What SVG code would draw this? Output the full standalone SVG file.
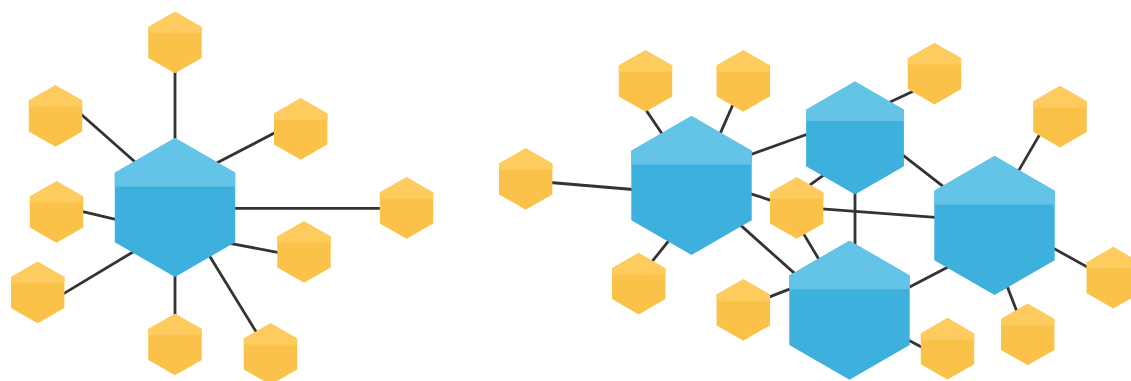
<svg xmlns="http://www.w3.org/2000/svg" xmlns:xlink="http://www.w3.org/1999/xlink" width="1131" height="381" viewBox="0 0 1131 381">
<style>
.edge{stroke:#333333;stroke-width:2.8;stroke-linecap:butt;fill:none}
.bd{fill:#3DB0DD}.bl{fill:#63C4E8}
.yd{fill:#FBC24A}.yl{fill:#FDCB5E}
</style>
<defs>
<g id="sh">
<polygon class="yd" points="0,-30.8 26.7,-15.4 26.7,15.4 0,30.8 -26.7,15.4 -26.7,-15.4"/>
<polygon class="yl" points="0,-30.8 26.7,-15.4 26.7,-9.2 -26.7,-9.2 -26.7,-15.4"/>
</g>
<g id="bh">
<polygon class="bd" points="0,-69.5 60.2,-34.75 60.2,34.75 0,69.5 -60.2,34.75 -60.2,-34.75"/>
<polygon class="bl" points="0,-69.5 60.2,-34.75 60.2,-21 -60.2,-21 -60.2,-34.75"/>
</g>
<g id="mh">
<polygon class="bd" points="0,-56.5 48.9,-28.25 48.9,28.25 0,56.5 -48.9,28.25 -48.9,-28.25"/>
<polygon class="bl" points="0,-56.5 48.9,-28.25 48.9,-17 -48.9,-17 -48.9,-28.25"/>
</g>
</defs>
<rect width="1131" height="381" fill="#FFFFFF"/>
<g id="connectors">
<line class="edge" x1="175" y1="66" x2="175" y2="145"/>
<line class="edge" x1="76" y1="109.7" x2="141" y2="167.3"/>
<line class="edge" x1="209.9" y1="166.4" x2="281.1" y2="129.6"/>
<line class="edge" x1="228" y1="208.3" x2="388" y2="208.3"/>
<line class="edge" x1="75.5" y1="209.9" x2="121.8" y2="220.8"/>
<line class="edge" x1="227.4" y1="242.8" x2="285.2" y2="253.8"/>
<line class="edge" x1="57.4" y1="297.4" x2="137.6" y2="249.2"/>
<line class="edge" x1="175" y1="270" x2="175" y2="321"/>
<line class="edge" x1="206.8" y1="251.5" x2="260.2" y2="338.5"/>
<line class="edge" x1="544.3" y1="182" x2="639" y2="190"/>
<line class="edge" x1="642.2" y1="104.4" x2="666.2" y2="140"/>
<line class="edge" x1="735.5" y1="98.7" x2="717.5" y2="139.6"/>
<line class="edge" x1="648.3" y1="266.2" x2="672.7" y2="235.8"/>
<line class="edge" x1="744.8" y1="156.7" x2="813.5" y2="132"/>
<line class="edge" x1="744.7" y1="191.9" x2="777.6" y2="202.4"/>
<line class="edge" x1="736.3" y1="221.4" x2="799.3" y2="277.6"/>
<line class="edge" x1="762.5" y1="299.6" x2="796.5" y2="286.4"/>
<line class="edge" x1="803.5" y1="189.7" x2="828.8" y2="171.3"/>
<line class="edge" x1="800.2" y1="228.1" x2="822.4" y2="265.2"/>
<line class="edge" x1="855" y1="190" x2="855" y2="250"/>
<line class="edge" x1="883.8" y1="105.1" x2="919.5" y2="88.3"/>
<line class="edge" x1="897.7" y1="151.1" x2="948.6" y2="190.6"/>
<line class="edge" x1="815.3" y1="208.4" x2="942" y2="217.9"/>
<line class="edge" x1="1015" y1="176.9" x2="1043.3" y2="128.4"/>
<line class="edge" x1="1048.3" y1="245.4" x2="1093.7" y2="270.6"/>
<line class="edge" x1="1004.8" y1="280.2" x2="1018.9" y2="316.8"/>
<line class="edge" x1="953.8" y1="264" x2="902.9" y2="290.4"/>
<line class="edge" x1="902.9" y1="337.3" x2="928.1" y2="350.4"/>
</g>
<g id="hub-left" transform="translate(175,207.5)"><use href="#bh"/></g>
<g id="l-top" transform="translate(175,42.5)"><use href="#sh"/></g>
<g id="l-upleft" transform="translate(55.5,116)"><use href="#sh"/></g>
<g id="l-upright" transform="translate(300.7,129)"><use href="#sh"/></g>
<g id="l-right" transform="translate(406.5,208)"><use href="#sh"/></g>
<g id="l-midleft" transform="translate(56.5,212)"><use href="#sh"/></g>
<g id="l-lowright" transform="translate(304,252)"><use href="#sh"/></g>
<g id="l-lowleft" transform="translate(37.7,292.5)"><use href="#sh"/></g>
<g id="l-bottom" transform="translate(175,344.5)"><use href="#sh"/></g>
<g id="l-botright" transform="translate(270.5,354)"><use href="#sh"/></g>
<g id="hub-a" transform="translate(691.5,185.5)"><use href="#bh"/></g>
<g id="hub-b" transform="translate(855,138)"><use href="#mh"/></g>
<g id="hub-c" transform="translate(994.5,225.5)"><use href="#bh"/></g>
<g id="hub-d" transform="translate(849.5,310.2)"><use href="#bh"/></g>
<g id="r-farleft" transform="translate(525.7,179)"><use href="#sh"/></g>
<g id="r-topleft" transform="translate(645.5,81)"><use href="#sh"/></g>
<g id="r-topright" transform="translate(743.3,81)"><use href="#sh"/></g>
<g id="r-lowleft" transform="translate(638.7,283.7)"><use href="#sh"/></g>
<g id="r-low" transform="translate(743.3,310)"><use href="#sh"/></g>
<g id="r-mid" transform="translate(796.7,208)"><use href="#sh"/></g>
<g id="r-topb" transform="translate(934.5,73.7)"><use href="#sh"/></g>
<g id="r-farupright" transform="translate(1060,116.7)"><use href="#sh"/></g>
<g id="r-right" transform="translate(1113.3,277.8)"><use href="#sh"/></g>
<g id="r-botc" transform="translate(1027.7,334.5)"><use href="#sh"/></g>
<g id="r-botd" transform="translate(947.5,348.8)"><use href="#sh"/></g>
</svg>
